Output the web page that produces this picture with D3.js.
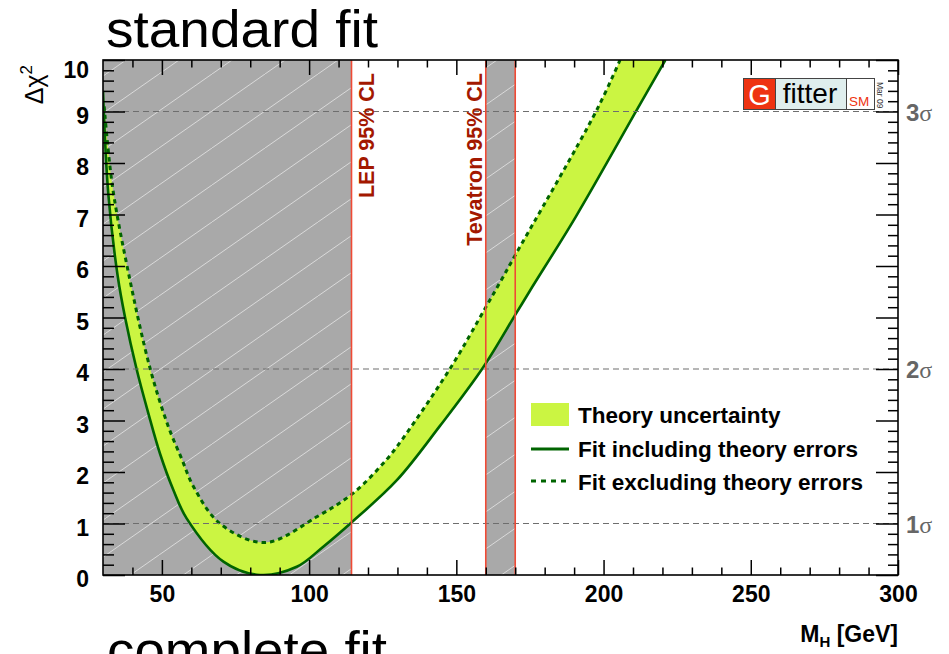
<!DOCTYPE html>
<html><head><meta charset="utf-8">
<script src="https://cdn.jsdelivr.net/npm/d3@7"></script>
<style>
body{margin:0;background:#fff;}
text{font-family:"Liberation Sans",Arial,Helvetica,sans-serif;}
</style>
</head><body>
<svg id="c" width="949" height="654"></svg>
<script>
// ---------- data ----------
const xTickValues = [50, 100, 150, 200, 250, 300];
const yTickValues = [0, 1, 2, 3, 4, 5, 6, 7, 8, 9, 10];
const sigmaLevels = [1, 4, 9];
const sigmaLabels = ["1", "2", "3"];
// Fit including theory errors (solid, lower edge of band)
const mH_incl   = [30, 31.8, 35, 37.5, 41.4, 45.4, 49.4, 53.9, 58.4, 70.9, 83.3, 95.8, 104.8, 114.4, 129.8, 144.5, 159.2, 170, 175, 190.5, 211.3, 221];
const chi2_incl = [9.4, 7.4, 5.8, 5.0, 4.0, 3.14, 2.35, 1.65, 1.1, 0.26, 0.0, 0.16, 0.55, 1.02, 1.84, 2.9, 4.04, 5.05, 5.52, 6.95, 9.03, 10.0];
// Fit excluding theory errors (dashed, upper edge of band)
const mH_excl   = [30.4, 33.2, 38.6, 46, 52.2, 56.7, 60.7, 69.7, 85, 102.6, 115, 125.2, 129.8, 147.9, 159.8, 165, 170, 197.7, 205.6];
const chi2_excl = [9.1, 7.55, 5.88, 4.01, 2.88, 2.26, 1.72, 1.0, 0.63, 1.13, 1.59, 2.17, 2.49, 4.01, 5.18, 5.7, 6.21, 9.03, 10.0];
const lepLimit = 114.4;
const tevatronRange = [160, 170];
const legendLabels = ["Theory uncertainty", "Fit including theory errors", "Fit excluding theory errors"];

// ---------- layout ----------
const L = 103, R = 898, T = 60, B = 575;
const x = d3.scaleLinear().domain([30, 300]).range([L, R]);
const y = d3.scaleLinear().domain([0, 10]).range([B, T]);
const svg = d3.select("#c");
const LIME = "#cbf542", DKGREEN = "#006400", GRAY = "#a9a9a9", RED = "#f04a35", DKRED = "#a31800";

const defs = svg.append("defs");
defs.append("clipPath").attr("id", "plotclip").append("rect")
  .attr("x", L).attr("y", T).attr("width", R - L).attr("height", B - T);
const pat = defs.append("pattern").attr("id", "hatch").attr("patternUnits", "userSpaceOnUse")
  .attr("width", 53).attr("height", 37);
pat.append("line").attr("x1", 0).attr("y1", 37).attr("x2", 53).attr("y2", 0)
  .attr("stroke", "#d9d9d9").attr("stroke-width", 1);

svg.append("rect").attr("width", 949).attr("height", 654).attr("fill", "#fff");

const plot = svg.append("g").attr("clip-path", "url(#plotclip)");

// excluded regions
const regions = [[30, lepLimit], tevatronRange];
regions.forEach(r => {
  plot.append("rect").attr("x", x(r[0])).attr("y", T).attr("width", x(r[1]) - x(r[0])).attr("height", B - T).attr("fill", GRAY);
  plot.append("rect").attr("x", x(r[0])).attr("y", T).attr("width", x(r[1]) - x(r[0])).attr("height", B - T).attr("fill", "url(#hatch)");
});

// band
const incl = mH_incl.map((m, i) => [m, chi2_incl[i]]);
const excl = mH_excl.map((m, i) => [m, chi2_excl[i]]);
const lineGen = d3.line().x(d => x(d[0])).y(d => y(d[1])).curve(d3.curveCatmullRom.alpha(0.5));
const upper = lineGen(excl);
const lowerRev = lineGen(incl.slice().reverse());
plot.append("path").attr("d", upper + "L" + lowerRev.slice(1) + "Z").attr("fill", LIME).attr("stroke", "none");

// sigma dashed lines
sigmaLevels.forEach(s => {
  svg.append("line").attr("x1", L).attr("x2", R).attr("y1", y(s)).attr("y2", y(s))
    .attr("stroke", "#6e6e6e").attr("stroke-width", 1.2).attr("stroke-dasharray", "6,4");
});

// curves
plot.append("path").attr("d", lineGen(incl)).attr("fill", "none").attr("stroke", DKGREEN).attr("stroke-width", 2.6);
plot.append("path").attr("d", upper).attr("fill", "none").attr("stroke", DKGREEN).attr("stroke-width", 3).attr("stroke-dasharray", "4.5,4");

// red limit lines
[lepLimit, tevatronRange[0], tevatronRange[1]].forEach(v => {
  svg.append("line").attr("x1", x(v)).attr("x2", x(v)).attr("y1", T).attr("y2", B)
    .attr("stroke", RED).attr("stroke-width", 1.6);
});
svg.append("text").attr("transform", `translate(${x(lepLimit) + 22},73) rotate(-90)`)
  .attr("text-anchor", "end").attr("font-size", 21.5).attr("font-weight", "bold").attr("fill", DKRED).text("LEP 95% CL");
svg.append("text").attr("transform", `translate(${x(tevatronRange[0]) - 4},73) rotate(-90)`)
  .attr("text-anchor", "end").attr("font-size", 21.5).attr("font-weight", "bold").attr("fill", DKRED).text("Tevatron 95% CL");

// ---------- axes ----------
const xMinor = d3.range(40, 300, 10).filter(v => v % 50 !== 0);
const yMinor = d3.range(1, 50).filter(k => k % 5 !== 0).map(k => k / 5);
function styleAxis(g) { g.select(".domain").remove(); g.selectAll("line").attr("stroke", "#000").attr("stroke-width", 1.5); }

svg.append("g").attr("transform", `translate(0,${B})`).call(d3.axisBottom(x).tickValues(xMinor).tickSize(-7.5).tickFormat("")).call(styleAxis);
const xb = svg.append("g").attr("transform", `translate(0,${B})`).call(d3.axisBottom(x).tickValues(xTickValues).tickSize(-15).tickPadding(11).tickFormat(d3.format("d"))).call(styleAxis);
xb.selectAll("text").attr("font-size", 23).attr("font-weight", "bold").attr("fill", "#000").attr("font-family", "Liberation Sans, Arial, sans-serif");
svg.append("g").attr("transform", `translate(0,${T})`).call(d3.axisTop(x).tickValues(xMinor).tickSize(-7.5).tickFormat("")).call(styleAxis);
svg.append("g").attr("transform", `translate(0,${T})`).call(d3.axisTop(x).tickValues(xTickValues).tickSize(-15).tickFormat("")).call(styleAxis);

svg.append("g").attr("transform", `translate(${L},0)`).call(d3.axisLeft(y).tickValues(yMinor).tickSize(-11).tickFormat("")).call(styleAxis);
const yl = svg.append("g").attr("transform", `translate(${L},0)`).call(d3.axisLeft(y).tickValues(yTickValues).tickSize(-22).tickPadding(14).tickFormat(d3.format("d"))).call(styleAxis);
yl.selectAll("text").attr("font-size", 23).attr("font-weight", "bold").attr("fill", "#000").attr("font-family", "Liberation Sans, Arial, sans-serif")
  .attr("dy", d => d === 10 ? "0.75em" : "0.5em");
svg.append("g").attr("transform", `translate(${R},0)`).call(d3.axisRight(y).tickValues(yMinor).tickSize(-10).tickFormat("")).call(styleAxis);
svg.append("g").attr("transform", `translate(${R},0)`).call(d3.axisRight(y).tickValues(yTickValues).tickSize(-22).tickFormat("")).call(styleAxis);

svg.append("rect").attr("x", L).attr("y", T).attr("width", R - L).attr("height", B - T)
  .attr("fill", "none").attr("stroke", "#000").attr("stroke-width", 1.6);

// sigma labels
sigmaLevels.forEach((s, i) => {
  const t = svg.append("text").attr("x", R + 8).attr("y", y(s) + 9).attr("font-size", 24).attr("fill", "#666");
  t.append("tspan").attr("font-weight", "bold").text(sigmaLabels[i]);
  t.append("tspan").attr("font-family", "Liberation Serif, Times New Roman, serif").text("σ");
});

// axis titles
const yt = svg.append("text").attr("transform", "translate(43,65) rotate(-90)").attr("text-anchor", "end").attr("font-size", 25).attr("fill", "#000");
yt.append("tspan").text("Δχ");
yt.append("tspan").attr("font-size", 17).attr("dy", -11).text("2");
const xt = svg.append("text").attr("x", R).attr("y", 642).attr("text-anchor", "end").attr("font-size", 23).attr("font-weight", "bold").attr("fill", "#000");
xt.append("tspan").text("M");
xt.append("tspan").attr("font-size", 15).attr("dy", 5).text("H");
xt.append("tspan").attr("dy", -5).text(" [GeV]");

// titles
svg.append("text").attr("x", 106).attr("y", 47).attr("font-size", 52).attr("textLength", 272).attr("lengthAdjust", "spacingAndGlyphs").attr("fill", "#000").text("standard fit");
svg.append("text").attr("x", 107).attr("y", 668).attr("font-size", 52).attr("textLength", 280).attr("lengthAdjust", "spacingAndGlyphs").attr("fill", "#000").text("complete fit");

// legend
const lg = svg.append("g");
const lx = 531, lw = 38, tx = 578, rows = [423, 456.5, 490];
lg.append("rect").attr("x", lx).attr("y", 403).attr("width", lw).attr("height", 23).attr("fill", LIME);
lg.append("line").attr("x1", lx).attr("x2", lx + lw).attr("y1", 449).attr("y2", 449).attr("stroke", DKGREEN).attr("stroke-width", 3);
lg.append("line").attr("x1", lx).attr("x2", lx + lw).attr("y1", 481).attr("y2", 481).attr("stroke", DKGREEN).attr("stroke-width", 3).attr("stroke-dasharray", "5,5");
legendLabels.forEach((s, i) => {
  lg.append("text").attr("x", tx).attr("y", rows[i]).attr("font-size", 22.5).attr("font-weight", "bold").attr("fill", "#000").text(s);
});

// Gfitter logo
const lo = svg.append("g");
const ly0 = 78.5, lh = 31;
lo.append("rect").attr("x", 743.5).attr("y", ly0).attr("width", 32).attr("height", lh).attr("fill", "#ee3311");
lo.append("rect").attr("x", 775.5).attr("y", ly0).attr("width", 71).attr("height", lh).attr("fill", "#dfeeed");
lo.append("rect").attr("x", 846.5).attr("y", ly0).attr("width", 28).attr("height", lh).attr("fill", "#fff");
lo.append("rect").attr("x", 743.5).attr("y", ly0).attr("width", 131).attr("height", lh).attr("fill", "none").attr("stroke", "#444").attr("stroke-width", 1);
lo.append("line").attr("x1", 775.5).attr("x2", 775.5).attr("y1", ly0).attr("y2", ly0 + lh).attr("stroke", "#444");
lo.append("line").attr("x1", 846.5).attr("x2", 846.5).attr("y1", ly0).attr("y2", ly0 + lh).attr("stroke", "#444");
lo.append("text").attr("x", 759.5).attr("y", 105).attr("text-anchor", "middle").attr("font-size", 29).attr("fill", "#fff").text("G");
lo.append("text").attr("x", 810).attr("y", 102.5).attr("text-anchor", "middle").attr("font-size", 28).attr("fill", "#000").text("fitter");
lo.append("text").attr("x", 859).attr("y", 105.5).attr("text-anchor", "middle").attr("font-size", 13.5).attr("fill", "#ee3311").text("SM");
lo.append("text").attr("transform", "translate(877,82) rotate(90)").attr("font-size", 8.5).attr("fill", "#333").text("Mar 09");
</script>
</body></html>
